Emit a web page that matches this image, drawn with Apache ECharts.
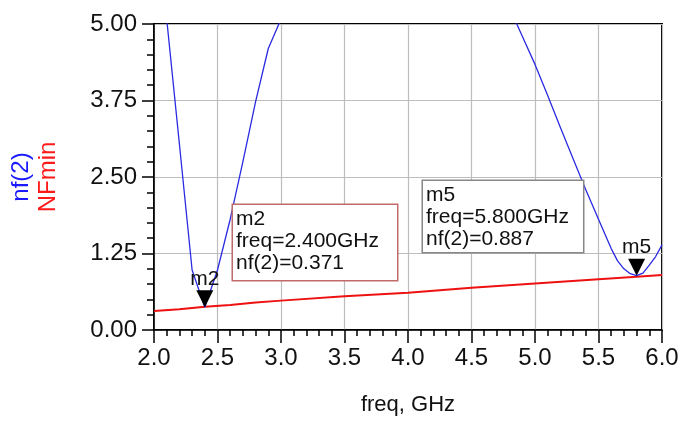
<!DOCTYPE html>
<html>
<head>
<meta charset="utf-8">
<script src="https://cdn.jsdelivr.net/npm/echarts@6/dist/echarts.min.js"></script>
<style>
html,body{margin:0;padding:0;background:#fff;}
#chart{width:683px;height:422px;}
</style>
</head>
<body>
<div id="chart"></div>
<script>
// ---- data ----
const xTicks = ['2.0','2.5','3.0','3.5','4.0','4.5','5.0','5.5','6.0'];
const yTicks = ['0.00','1.25','2.50','3.75','5.00'];
const nfFreq = [2.1, 2.2, 2.3, 2.4, 2.5, 2.6, 2.7, 2.8, 2.9, 3.0, 3.9, 4.8, 4.9, 5.0, 5.1, 5.2, 5.3, 5.4, 5.5, 5.6, 5.65, 5.7, 5.75, 5.8, 5.85, 5.9, 5.95, 6.0];
const nfVal  = [5.08, 3.04, 0.98, 0.371, 0.98, 1.81, 2.75, 3.73, 4.60, 5.08, null, 5.26, 4.80, 4.34, 3.83, 3.31, 2.80, 2.29, 1.81, 1.33, 1.13, 1.00, 0.92, 0.887, 0.93, 1.06, 1.20, 1.39];
const nfminFreq = [2.0, 2.2, 2.4, 2.6, 2.8, 3.0, 3.5, 4.0, 4.5, 5.0, 5.5, 5.8, 6.0];
const nfminVal  = [0.31, 0.34, 0.38, 0.41, 0.45, 0.48, 0.55, 0.61, 0.69, 0.76, 0.83, 0.87, 0.90];
const markerNames = ['m2', 'm5'];
const markerFreq = [2.4, 5.8];
const markerVal = [0.371, 0.887];
const markerText = [
  'm2\nfreq=2.400GHz\nnf(2)=0.371',
  'm5\nfreq=5.800GHz\nnf(2)=0.887'
];
// annotation box anchors (data coords of top-left corner)
const boxAnchor = [[2.622, 2.042], [4.118, 2.435]];

// ---- chart ----
const FONT = "'Liberation Sans', Arial, sans-serif";
const chart = echarts.init(document.getElementById('chart'), null, {renderer: 'canvas'});

const nfData = nfFreq.map((f, i) => [f, nfVal[i] === null ? '-' : nfVal[i]]);
const nfminData = nfminFreq.map((f, i) => [f, nfminVal[i]]);

const triMarks = markerNames.map((n, i) => ({
  name: n,
  coord: [markerFreq[i], markerVal[i]],
  symbol: 'triangle',
  symbolSize: [17, 17],
  symbolRotate: 180,
  symbolOffset: [0, '-50%'],
  itemStyle: {color: '#000'},
  label: {show: true, position: 'top', distance: 1, formatter: n,
          color: '#111', fontSize: 21, fontFamily: FONT}
}));
const boxColors = ['#c06a6a', '#888888'];
const boxSizes = [[157, 68], [153, 64]];
const boxMarks = markerNames.map((n, i) => ({
  name: n + 'box',
  coord: boxAnchor[i],
  symbol: 'rect',
  symbolSize: 0,
  label: {
    show: true, position: [0, 0], align: 'left', verticalAlign: 'top',
    formatter: markerText[i],
    color: '#111', fontSize: 21, lineHeight: 22, fontFamily: FONT,
    backgroundColor: '#fff', borderColor: boxColors[i], borderWidth: 1.5,
    padding: [3, 4, 4, 3],
    width: boxSizes[i][0], height: boxSizes[i][1]
  }
}));

chart.setOption({
  animation: false,
  backgroundColor: '#fff',
  grid: {left: 154, top: 24, right: 21, bottom: 92, show: true,
         containLabel: false, outerBoundsMode: 'none',
         borderColor: '#000', borderWidth: 2, backgroundColor: 'transparent'},
  xAxis: {
    type: 'value', min: 2, max: 6, interval: 0.5,
    name: 'freq, GHz', nameLocation: 'middle', nameGap: 64,
    nameTextStyle: {fontSize: 22, color: '#111', fontFamily: FONT},
    axisLine: {show: true, lineStyle: {color: '#000', width: 1.5}},
    axisTick: {show: true, inside: false, length: 13, lineStyle: {color: '#000', width: 1.5}},
    minorTick: {show: true, splitNumber: 5, length: 6, lineStyle: {color: '#000', width: 1.5}},
    axisLabel: {margin: 16, fontSize: 24, color: '#111', fontFamily: FONT,
                formatter: v => xTicks[Math.round((v - 2) / 0.5)]},
    splitLine: {show: true, lineStyle: {color: '#bdbdbd', width: 1.2}}
  },
  yAxis: {
    type: 'value', min: 0, max: 5, interval: 1.25,
    name: '{a|nf(2)}\n{b|NFmin}', nameLocation: 'middle', nameGap: 92, nameRotate: 90,
    nameTextStyle: {
      fontFamily: FONT, lineHeight: 27,
      rich: {
        a: {color: '#1a1aff', fontSize: 24, fontFamily: FONT, lineHeight: 27},
        b: {color: '#ff1a1a', fontSize: 24, fontFamily: FONT, lineHeight: 27}
      }
    },
    axisLine: {show: true, lineStyle: {color: '#000', width: 1.5}},
    axisTick: {show: true, inside: false, length: 12, lineStyle: {color: '#000', width: 1.5}},
    minorTick: {show: true, splitNumber: 5, length: 7, lineStyle: {color: '#000', width: 1.5}},
    axisLabel: {margin: 17, fontSize: 24, color: '#111', fontFamily: FONT,
                formatter: v => yTicks[Math.round(v / 1.25)]},
    splitLine: {show: true, lineStyle: {color: '#bdbdbd', width: 1.2}}
  },
  series: [
    {
      name: 'NFmin', type: 'line', data: nfminData, symbol: 'none',
      lineStyle: {color: '#ee1111', width: 2}, z: 2,
      markPoint: {data: boxMarks, z: 5, animation: false}
    },
    {
      name: 'nf(2)', type: 'line', data: nfData, symbol: 'none', connectNulls: false,
      clip: true, lineStyle: {color: '#2a2ae0', width: 1.3}, z: 3,
      markPoint: {data: triMarks, z: 6, animation: false}
    }
  ]
});
</script>
</body>
</html>
